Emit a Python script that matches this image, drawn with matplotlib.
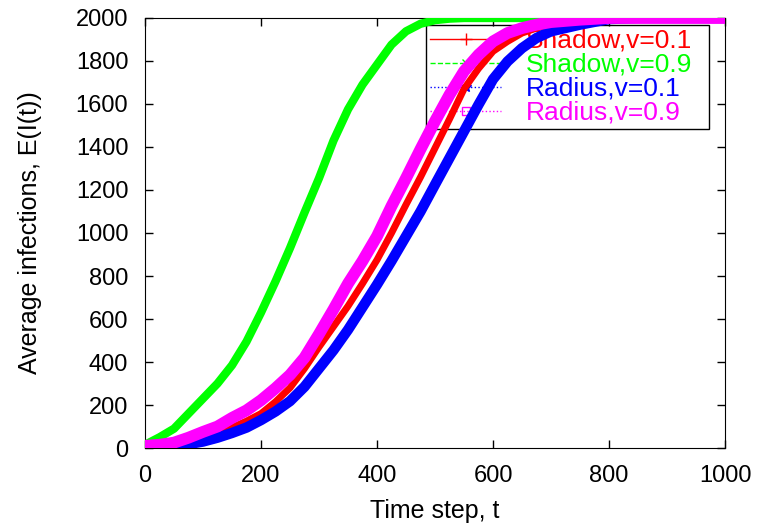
import matplotlib
matplotlib.use('Agg')
import matplotlib.pyplot as plt
from matplotlib.lines import Line2D

plt.rcParams['font.family'] = ['Liberation Sans', 'DejaVu Sans']

# time steps shared by the curves
t = [0, 25, 50, 75, 100, 125, 150, 175, 200, 225, 250, 275, 300, 325, 350, 375,
     400, 425, 450, 475, 500, 525, 550, 575, 600, 625, 650, 675, 700, 750, 800, 850, 1000]

# Shadow, v=0.1
y_s01 = [10, 12, 20, 30, 45, 65, 95, 125, 160, 215, 280, 370, 470, 565, 660, 765,
         875, 1000, 1132, 1260, 1395, 1530, 1670, 1765, 1845, 1891, 1930, 1953, 1969, 1988, 1998, 2000, 2000]

# Shadow, v=0.9
y_s09 = [15, 50, 90, 160, 230, 300, 385, 495, 630, 775, 930, 1095, 1255, 1430, 1575, 1690,
         1783, 1876, 1938, 1973, 1990, 1997, 2000, 2000, 2000, 2000, 2000, 2000, 2000, 2000, 2000, 2000, 2000]

# Radius, v=0.1
y_r01 = [5, 6, 10, 18, 30, 48, 70, 95, 130, 170, 218, 285, 370, 455, 550, 655,
         760, 870, 985, 1100, 1225, 1349, 1473, 1597, 1715, 1798, 1860, 1907, 1938, 1969, 1995, 2000, 2000]

# Radius, v=0.9
y_r09 = [10, 15, 25, 48, 75, 100, 140, 175, 222, 278, 340, 420, 530, 645, 765, 870,
         985, 1125, 1255, 1390, 1520, 1643, 1752, 1829, 1891, 1930, 1953, 1969, 1981, 1992, 2000, 2000, 2000]

labels = ['Shadow,v=0.1', 'Shadow,v=0.9', 'Radius,v=0.1', 'Radius,v=0.9']
colors = ['#ff0000', '#00ff00', '#0000ff', '#ff00ff']

fig = plt.figure(figsize=(7.58, 5.29), dpi=100)
ax = fig.add_axes([0.1913, 0.1531, 0.7652, 0.8129])

ax.plot(t, y_s01, color=colors[0], lw=5, zorder=3)
ax.plot(t, y_s09, color=colors[1], lw=6, zorder=3)
ax.plot(t, y_r01, color=colors[2], lw=7.5, zorder=3)
ax.plot(t, y_r09, color=colors[3], lw=8.5, zorder=3)

ax.set_xlim(0, 1000)
ax.set_ylim(0, 2000)
ax.set_xticks(range(0, 1001, 200))
ax.set_yticks(range(0, 2001, 200))
ax.tick_params(direction='in', top=True, right=True, length=6, width=1,
               labelsize=17, pad=12)
ax.set_xlabel('Time step, t', fontsize=18, labelpad=9)
ax.set_ylabel('Average infections, E(I(t))', fontsize=18, labelpad=24)

handles = [
    Line2D([], [], color=colors[0], lw=1, ls='-', marker='+', ms=8),
    Line2D([], [], color=colors[1], lw=1, ls='--', marker='x', ms=6),
    Line2D([], [], color=colors[2], lw=1, ls=':', marker='*', ms=7),
    Line2D([], [], color=colors[3], lw=1, ls=':', marker='s', ms=6, mfc='none'),
]
leg = ax.legend(handles, labels, loc='upper left', bbox_to_anchor=(0.4845, 0.984, 0.4875, 0.0),
                mode='expand', fontsize=19, labelcolor='linecolor', numpoints=1,
                handlelength=2.7, handletextpad=0.95, labelspacing=0.0,
                borderpad=0.15, borderaxespad=0, fancybox=False, framealpha=1,
                edgecolor='black')
leg.get_frame().set_linewidth(1)
leg.set_zorder(1)

fig.savefig('out.png', dpi=100)
